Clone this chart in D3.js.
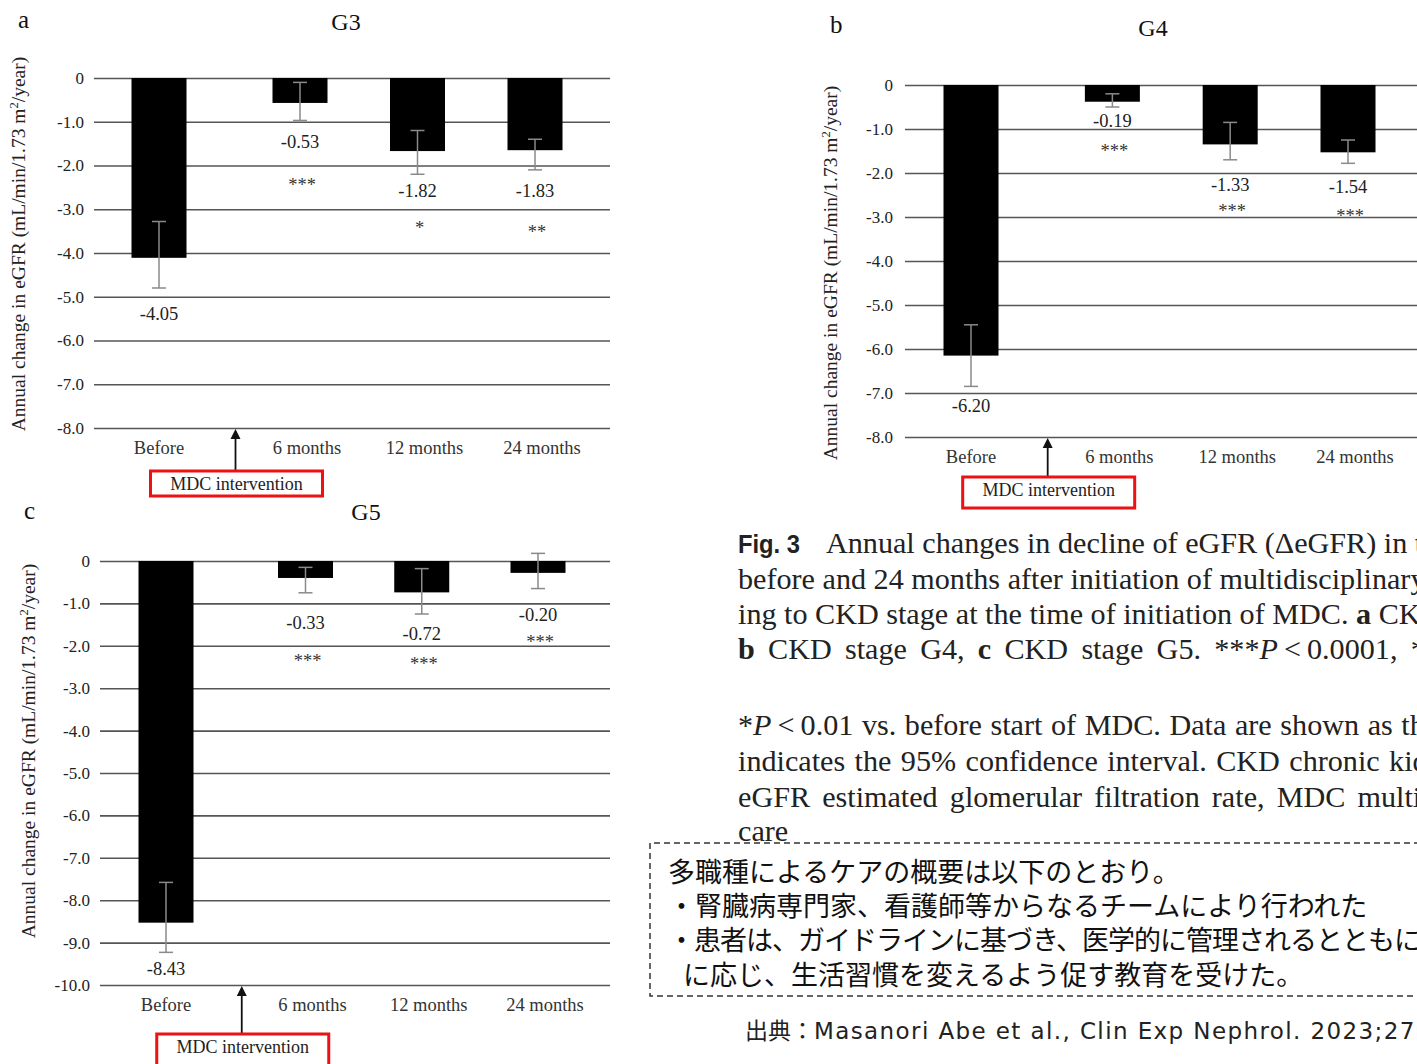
<!DOCTYPE html>
<html lang="ja">
<head>
<meta charset="UTF-8">
<title>eGFR annual change</title>
<style>
  body { margin: 0; padding: 0; background: #fff; }
  svg { display: block; }
  .serif { font-family: 'Liberation Serif', 'Times New Roman', serif; }
</style>
</head>
<body>
<script src="https://cdn.jsdelivr.net/npm/d3@7"></script>
<script>
// data
const categories = ['Before', '6 months', '12 months', '24 months'];

const g3Mean  = [-4.11, -0.57, -1.67, -1.65];
const g3Upper = [-3.28, -0.10, -1.20, -1.40];
const g3Lower = [-4.80, -0.97, -2.20, -2.10];
const g3Text  = ['-4.05', '-0.53', '-1.82', '-1.83'];
const g3Stars = ['', '***', '*', '**'];

const g4Mean  = [-6.15, -0.38, -1.35, -1.53];
const g4Upper = [-5.45, -0.20, -0.85, -1.25];
const g4Lower = [-6.85, -0.50, -1.70, -1.78];
const g4Text  = ['-6.20', '-0.19', '-1.33', '-1.54'];
const g4Stars = ['', '***', '***', '***'];

const g5Mean  = [-8.53, -0.40, -0.74, -0.28];
const g5Upper = [-7.58, -0.15, -0.18, 0.18];
const g5Lower = [-9.23, -0.75, -1.25, -0.65];
const g5Text  = ['-8.43', '-0.33', '-0.72', '-0.20'];
const g5Stars = ['', '***', '***', '***'];

const yTicks3 = [0, -1, -2, -3, -4, -5, -6, -7, -8];
const yTicks5 = [0, -1, -2, -3, -4, -5, -6, -7, -8, -9, -10];

const W = 1417, H = 1064;
const svg = d3.select('body').append('svg')
  .attr('width', W).attr('height', H)
  .attr('class', 'serif');
svg.append('rect').attr('width', W).attr('height', H).attr('fill', '#fff');

// slot positions: gap after "Before" for the intervention arrow
const slots = [0, 1.2, 2.2, 3.2];

function panel(opt) {
  const g = svg.append('g');
  const y = d3.scaleLinear().domain([opt.ticks[opt.ticks.length - 1], 0]).range([opt.yBottom, opt.yTop]);
  const x = d3.scaleLinear().domain([0, 3.2]).range([opt.xFirst, opt.xLast]);

  // grid + tick labels through the axis
  const axis = d3.axisLeft(y)
    .tickValues(opt.ticks)
    .tickSize(-(opt.gridRight - opt.gridLeft))
    .tickPadding(opt.pad)
    .tickFormat(d => d === 0 ? '0' : d3.format('.1f')(d).replace('\u2212', '-'));
  const ax = g.append('g')
    .attr('transform', `translate(${opt.gridLeft},0)`)
    .call(axis);
  ax.attr('font-family', null);
  ax.select('.domain').remove();
  ax.selectAll('.tick line').attr('stroke', '#555').attr('stroke-width', 1.6);
  ax.selectAll('.tick text')
    .style('font-family', "'Liberation Serif', serif")
    .attr('font-size', 17)
    .attr('fill', '#222');

  const bw = 55;
  const rows = categories.map((c, i) => ({
    c, i, mean: opt.mean[i], up: opt.upper[i], lo: opt.lower[i],
    txt: opt.text[i], star: opt.stars[i], cx: x(slots[i])
  }));

  g.selectAll('rect.bar').data(rows).enter().append('rect')
    .attr('class', 'bar')
    .attr('x', d => d.cx - bw / 2)
    .attr('y', y(0))
    .attr('width', bw)
    .attr('height', d => y(d.mean) - y(0))
    .attr('fill', '#000');

  // error bars
  const eb = g.selectAll('g.err').data(rows).enter().append('g').attr('class', 'err')
    .attr('stroke', '#8a8a8a').attr('stroke-width', 1.5);
  eb.append('line').attr('x1', d => d.cx).attr('x2', d => d.cx)
    .attr('y1', d => y(d.up)).attr('y2', d => y(d.lo));
  eb.append('line').attr('x1', d => d.cx - 7).attr('x2', d => d.cx + 7)
    .attr('y1', d => y(d.up)).attr('y2', d => y(d.up));
  eb.append('line').attr('x1', d => d.cx - 7).attr('x2', d => d.cx + 7)
    .attr('y1', d => y(d.lo)).attr('y2', d => y(d.lo));

  // value labels (label centres given in layout)
  g.selectAll('text.val').data(rows).enter().append('text')
    .attr('x', d => d.cx)
    .attr('y', d => opt.valY[d.i] + 6)
    .attr('text-anchor', 'middle')
    .attr('font-size', 18.5).attr('fill', '#222')
    .text(d => d.txt);
  g.selectAll('text.star').data(rows).enter().append('text')
    .attr('x', d => d.cx + 2)
    .attr('y', d => opt.starY[d.i] + 10)
    .attr('text-anchor', 'middle')
    .attr('font-size', 18.5).attr('fill', '#333')
    .text(d => d.star);

  // category labels
  g.selectAll('text.cat').data(rows).enter().append('text')
    .attr('x', d => d.cx + (d.i === 0 ? 0 : 7))
    .attr('y', opt.yBottom + 26)
    .attr('text-anchor', 'middle')
    .attr('font-size', 18.5).attr('fill', '#333')
    .text(d => d.c);

  // intervention arrow + red box
  const ax0 = (x(slots[0]) + x(slots[1])) / 2 + 6;
  g.append('line').attr('x1', ax0).attr('x2', ax0)
    .attr('y1', opt.boxTop).attr('y2', opt.yBottom + 8)
    .attr('stroke', '#111').attr('stroke-width', 1.8);
  g.append('path')
    .attr('d', `M${ax0},${opt.yBottom + 1} L${ax0 - 5},${opt.yBottom + 11} L${ax0 + 5},${opt.yBottom + 11} Z`)
    .attr('fill', '#111');
  g.append('rect')
    .attr('x', ax0 - 85).attr('y', opt.boxTop)
    .attr('width', 172).attr('height', opt.boxH)
    .attr('fill', '#fff').attr('stroke', '#ee1111').attr('stroke-width', 3);
  g.append('text')
    .attr('x', ax0 + 1).attr('y', opt.boxTop + 19)
    .attr('text-anchor', 'middle').attr('font-size', 18).attr('fill', '#222')
    .text('MDC intervention');

  // titles
  g.append('text').attr('x', opt.titleX).attr('y', opt.titleY)
    .attr('text-anchor', 'middle').attr('font-size', 24).attr('fill', '#111')
    .text(opt.title);
  g.append('text').attr('x', opt.letterX).attr('y', opt.letterY)
    .attr('font-size', 25).attr('fill', '#111')
    .text(opt.letter);

  // y axis title
  const yt = g.append('text')
    .attr('transform', `translate(${opt.ytX},${opt.ytY}) rotate(-90)`)
    .attr('text-anchor', 'middle').attr('font-size', 19.5).attr('fill', '#222');
  yt.append('tspan').text('Annual change in eGFR (mL/min/1.73 m');
  yt.append('tspan').attr('font-size', 12.5).attr('dy', -7).text('2');
  yt.append('tspan').attr('dy', 7).text('/year)');
}

panel({
  ticks: yTicks3, mean: g3Mean, upper: g3Upper, lower: g3Lower, text: g3Text, stars: g3Stars,
  yTop: 78, yBottom: 428, xFirst: 159, xLast: 535, gridLeft: 94, gridRight: 610, pad: 10,
  valY: [314, 142, 191, 191], starY: [0, 181, 224, 228], boxTop: 471, boxH: 25,
  title: 'G3', titleX: 346, titleY: 30, letter: 'a', letterX: 18, letterY: 28,
  ytX: 25, ytY: 244
});

panel({
  ticks: yTicks3, mean: g4Mean, upper: g4Upper, lower: g4Lower, text: g4Text, stars: g4Stars,
  yTop: 85, yBottom: 437, xFirst: 971, xLast: 1348, gridLeft: 905, gridRight: 1420, pad: 12,
  valY: [406, 121, 185, 187], starY: [0, 147, 207, 212], boxTop: 477, boxH: 31,
  title: 'G4', titleX: 1153, titleY: 36, letter: 'b', letterX: 830, letterY: 33,
  ytX: 837, ytY: 273
});

panel({
  ticks: yTicks5, mean: g5Mean, upper: g5Upper, lower: g5Lower, text: g5Text, stars: g5Stars,
  yTop: 561, yBottom: 985, xFirst: 166, xLast: 538, gridLeft: 100, gridRight: 610, pad: 10,
  valY: [969, 623, 634, 615], starY: [0, 657, 660, 638], boxTop: 1034, boxH: 32,
  title: 'G5', titleX: 366, titleY: 520, letter: 'c', letterX: 24, letterY: 519,
  ytX: 35, ytY: 751
});

// caption (slightly stretched horizontally, as in the source image)
const capX = 738, capSx = 1.04;
const cap = svg.append('g')
  .attr('transform', `translate(${capX},0) scale(${capSx},1)`)
  .attr('font-size', 29).attr('fill', '#222');
function capLine(yy, parts, ws, x0) {
  const t = cap.append('text').attr('x', x0 || 0).attr('y', yy);
  if (ws) t.attr('word-spacing', ws);
  parts.forEach(p => {
    const s = t.append('tspan').text(p.t);
    if (p.b) s.attr('font-weight', 'bold');
    if (p.i) s.attr('font-style', 'italic');
  });
}
cap.append('text').attr('x', 0).attr('y', 553)
  .attr('font-family', "'Liberation Sans Narrow', 'Liberation Sans', sans-serif")
  .attr('font-weight', 'bold').attr('font-size', 26)
  .attr('textLength', 62 / capSx).attr('lengthAdjust', 'spacingAndGlyphs')
  .text('Fig. 3');
capLine(553, [{ t: 'Annual changes in decline of eGFR (\u0394eGFR) in the period' }], 0, (826 - capX) / capSx);
capLine(589, [{ t: 'before and 24 months after initiation of multidisciplinary care accord-' }]);
capLine(624, [{ t: 'ing to CKD stage at the time of initiation of MDC. ' }, { t: 'a', b: true }, { t: ' CKD stage G3,' }]);
capLine(659, [{ t: 'b', b: true }, { t: ' CKD stage G4, ' }, { t: 'c', b: true }, { t: ' CKD stage G5. ***' }, { t: 'P', i: true }, { t: '\u2009<\u20090.0001, **' }, { t: 'P', i: true }, { t: '<0.001,' }], 5.5);
capLine(735, [{ t: '*' }, { t: 'P', i: true }, { t: '\u2009<\u20090.01 vs. before start of MDC. Data are shown as the mean, and the error bar' }], 1);
capLine(771, [{ t: 'indicates the 95% confidence interval. CKD chronic kidney disease,' }], 1.8);
capLine(807, [{ t: 'eGFR estimated glomerular filtration rate, MDC multidisciplinary' }], 4.4);
capLine(841, [{ t: 'care' }]);

// dashed note box
svg.append('path')
  .attr('d', 'M1420,843 L650,843 L650,996 L1420,996')
  .attr('fill', 'none').attr('stroke', '#333').attr('stroke-width', 1.5)
  .attr('stroke-dasharray', '6,4');

const jp = svg.append('g')
  .attr('font-family', "'Noto Sans CJK JP', sans-serif")
  .attr('font-size', 27).attr('fill', '#111');
const jpLines = [
  { x: 668, y: 882, ls: 0, t: '多職種によるケアの概要は以下のとおり。' },
  { x: 668, y: 916, ls: 0, t: '・腎臓病専門家、看護師等からなるチームにより行われた' },
  { x: 668, y: 950, ls: -1, t: '・患者は、ガイドラインに基づき、医学的に管理されるとともに、必要' },
  { x: 683, y: 985, ls: 0, t: 'に応じ、生活習慣を変えるよう促す教育を受けた。' }
];
jp.selectAll('text').data(jpLines).enter().append('text')
  .attr('x', d => d.x).attr('y', d => d.y)
  .attr('letter-spacing', d => d.ls)
  .text(d => d.t);

const src = svg.append('text')
  .attr('x', 745).attr('y', 1039)
  .attr('font-size', 23).attr('fill', '#222');
src.append('tspan').attr('font-family', "'Noto Sans CJK JP', sans-serif").text('出典：');
src.append('tspan').attr('font-family', "'DejaVu Sans', sans-serif").attr('font-size', 23)
  .attr('letter-spacing', 1.4)
  .text('Masanori Abe et al., Clin Exp Nephrol. 2023;27');
</script>
</body>
</html>
